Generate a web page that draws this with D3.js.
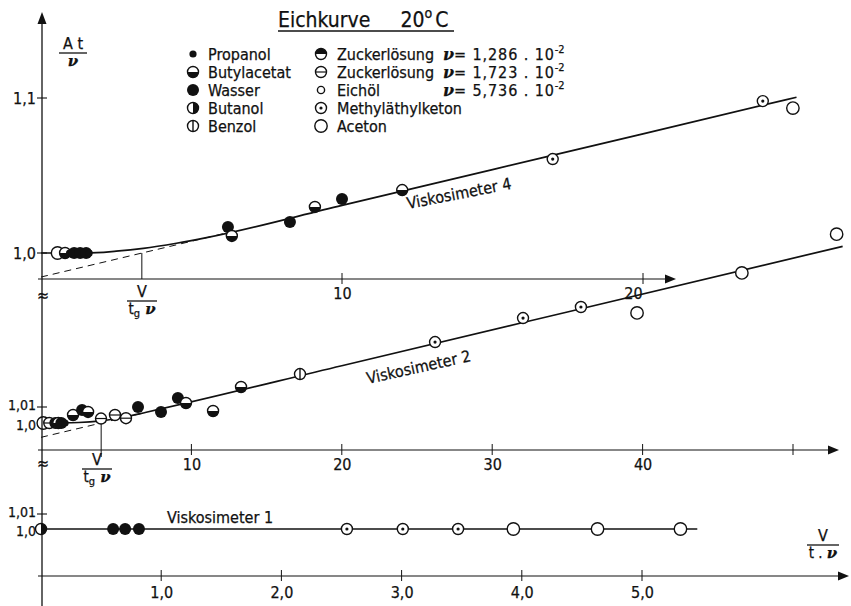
<!DOCTYPE html>
<html lang="de">
  <head>
    <meta charset="utf-8">
    <title>Eichkurve 20°C</title>
    <script src="https://cdn.jsdelivr.net/npm/d3@7"></script>
    <style>
      body { margin: 0; background: #fff; }
      text { font-family: "DejaVu Sans Condensed", "DejaVu Sans", sans-serif; fill: #111; stroke: #111; stroke-width: 0.25; }
    </style>
  </head>
  <body>
    <script>
      // Data: [x, A t / nu, substance]
      var v4Points = [
        [0.55, 1.0, "Aceton"], [0.8, 1.0, "Butylacetat"], [0.95, 1.0, "Propanol"],
        [1.1, 1.0, "Wasser"], [1.3, 1.0, "Wasser"], [1.5, 1.0, "Wasser"], [1.6, 1.0, "Propanol"],
        [6.21, 1.0168, "Wasser"], [6.34, 1.011, "Butylacetat"], [8.27, 1.020, "Wasser"],
        [9.1, 1.0297, "Butylacetat"], [10.0, 1.0348, "Wasser"], [12.0, 1.0406, "Butylacetat"],
        [17.0, 1.0606, "MEK"], [23.98, 1.098, "MEK"], [24.98, 1.0935, "Aceton"]
      ];
      var v4Curve = [[0, 1.0], [1.5, 1.0], [2.5, 1.0012], [3.4, 1.003], [4.5, 1.0063], [5.5, 1.0099],
                     [10, 1.0307], [15, 1.0538], [20, 1.0769], [25.1, 1.1005]];
      var v4Dash = [[0, 0.9845], [6.5, 1.0145]];
      var v4Mark = 3.35;

      var v2Points = [
        [0.15, 1.0, "Aceton"], [0.55, 1.0, "Zucker2"], [0.95, 1.0, "Wasser"], [1.15, 1.0, "Butylacetat"],
        [1.35, 1.0, "Wasser"], [1.6, 1.0, "Propanol"],
        [2.13, 1.005, "Butylacetat"], [2.73, 1.0081, "Wasser"], [3.13, 1.0069, "Butylacetat"],
        [3.99, 1.0028, "Zucker2"], [4.92, 1.005, "Zucker2"], [5.65, 1.003, "Zucker2"],
        [6.45, 1.010, "Wasser"], [7.98, 1.0069, "Wasser"], [9.1, 1.0156, "Wasser"],
        [9.64, 1.0125, "Butylacetat"], [11.44, 1.0075, "Butylacetat"], [13.3, 1.0225, "Butylacetat"],
        [17.22, 1.0306, "Benzol"], [26.2, 1.0506, "MEK"], [32.05, 1.0656, "MEK"], [35.9, 1.0725, "MEK"],
        [39.63, 1.0688, "Aceton"], [46.6, 1.0938, "Aceton"], [52.9, 1.118, "Aceton"]
      ];
      var v2Curve = [[0, 1.0], [2.5, 1.0003], [4, 1.0013], [5.5, 1.0036], [7, 1.0067],
                     [20, 1.0358], [35, 1.0694], [53.3, 1.1104]];
      var v2Dash = [[0, 0.99104], [7, 1.0067]];
      var v2Mark = 4.0;

      var v1Points = [
        [0, 1.0, "Butanol"], [0.6, 1.0, "Wasser"], [0.7, 1.0, "Wasser"], [0.815, 1.0, "Wasser"],
        [2.545, 1.0, "MEK"], [3.01, 1.0, "MEK"], [3.47, 1.0, "MEK"],
        [3.93, 1.0, "Aceton"], [4.63, 1.0, "Aceton"], [5.32, 1.0, "Aceton"]
      ];
      var v1Line = [[0, 1.0], [5.46, 1.0]];

      var legendCol1 = [["Propanol", "Propanol"], ["Butylacetat", "Butylacetat"], ["Wasser", "Wasser"],
                        ["Butanol", "Butanol"], ["Benzol", "Benzol"]];
      var legendCol2 = [["Zucker1", "Zuckerlösung"], ["Zucker2", "Zuckerlösung"], ["Eichoel", "Eichöl"],
                        ["MEK", "Methyläthylketon"], ["Aceton", "Aceton"]];
      var legendNu = ["1,286", "1,723", "5,736"];

      var de = d3.formatLocale({decimal: ",", thousands: ".", grouping: [3], currency: ["", "€"]});

      var svg = d3.select("body").append("svg")
                  .attr("width", 851)
                  .attr("height", 606);
      svg.append("rect").attr("width", 851).attr("height", 606).attr("fill", "#fff");

      var ink = "#111";
      var arc = d3.arc().innerRadius(0);

      // draws one plot symbol of the given substance
      var drawMarker = function(g, type, cx, cy){
        var m = g.append("g").attr("transform", "translate(" + cx + "," + cy + ")");
        var r = 5.5;
        if (type == "Propanol") {
          m.append("circle").attr("r", 3.6).attr("fill", ink);
          return;
        }
        if (type == "Wasser") {
          m.append("circle").attr("r", 6).attr("fill", ink);
          return;
        }
        if (type == "Eichoel") r = 3.6;
        if (type == "Aceton") r = 6.2;
        m.append("circle").attr("r", r).attr("fill", "#fff")
          .attr("stroke", ink).attr("stroke-width", 1.4);
        if (type == "Butylacetat")
          m.append("path").attr("d", arc.outerRadius(r)({startAngle: Math.PI/2, endAngle: 3*Math.PI/2})).attr("fill", ink);
        if (type == "Butanol")
          m.append("path").attr("d", arc.outerRadius(r)({startAngle: 0, endAngle: Math.PI})).attr("fill", ink);
        if (type == "Zucker1")
          m.append("path").attr("d", arc.outerRadius(r)({startAngle: -Math.PI/2, endAngle: Math.PI/2})).attr("fill", ink);
        if (type == "Benzol")
          m.append("line").attr("y1", -r).attr("y2", r).attr("stroke", ink).attr("stroke-width", 1.4);
        if (type == "Zucker2")
          m.append("line").attr("x1", -r).attr("x2", r).attr("stroke", ink).attr("stroke-width", 1.2);
        if (type == "MEK")
          m.append("circle").attr("r", 1.6).attr("fill", ink);
      };

      var arrowRight = function(x, y){
        svg.append("path").attr("d", "M" + (x - 11) + "," + (y - 4.5) + "L" + x + "," + y + "L" + (x - 11) + "," + (y + 4.5) + "Z")
          .attr("fill", ink);
      };

      // one panel per viscometer
      var panel = function(opt){
        var x = d3.scaleLinear().domain(opt.xDomain).range(opt.xRange);
        var y = d3.scaleLinear().domain(opt.yDomain).range(opt.yRange);
        var g = svg.append("g");

        // x axis line with arrow
        g.append("line").attr("x1", 38).attr("x2", opt.arrowX - 6)
          .attr("y1", opt.axisY).attr("y2", opt.axisY)
          .attr("stroke", ink).attr("stroke-width", 1.2);
        arrowRight(opt.arrowX, opt.axisY);

        // x ticks crossing the axis, labels from d3 axis
        g.selectAll(".xt").data(opt.xTicks).enter().append("line")
          .attr("x1", function(d){ return x(d); }).attr("x2", function(d){ return x(d); })
          .attr("y1", opt.axisY - 6).attr("y2", opt.axisY + 5)
          .attr("stroke", ink).attr("stroke-width", 1);
        var xa = g.append("g").attr("transform", "translate(0," + opt.axisY + ")")
          .call(d3.axisBottom(x).tickValues(opt.xLabels).tickSize(0).tickPadding(opt.xPad).tickFormat(opt.xFormat));
        xa.select(".domain").remove();
        xa.selectAll("text").attr("font-size", 16).attr("fill", ink)
          .attr("font-family", "DejaVu Sans Condensed, DejaVu Sans, sans-serif")
          .attr("dx", function(d){ return opt.labelShift && opt.labelShift[d] ? opt.labelShift[d] : 0; });

        // y ticks
        g.selectAll(".yt").data(opt.yTicks).enter().append("line")
          .attr("x1", 37).attr("x2", 47)
          .attr("y1", function(d){ return y(d); }).attr("y2", function(d){ return y(d); })
          .attr("stroke", ink).attr("stroke-width", 1.1);
        var ya = g.append("g").attr("transform", "translate(42,0)")
          .call(d3.axisLeft(y).tickValues(opt.yTicks).tickSize(0).tickPadding(6).tickFormat(opt.yFormat));
        ya.select(".domain").remove();
        ya.selectAll("text").attr("font-size", opt.ySize).attr("fill", ink)
          .attr("font-family", "DejaVu Sans Condensed, DejaVu Sans, sans-serif")
          .attr("dy", function(d, i){ return opt.yShift ? opt.yShift[i] : "0.32em"; });

        var line = d3.line().x(function(d){ return x(d[0]); }).y(function(d){ return y(d[1]); });
        if (opt.dash) {
          g.append("path").attr("d", line(opt.dash)).attr("fill", "none")
            .attr("stroke", ink).attr("stroke-width", 1).attr("stroke-dasharray", "7,5");
        }
        g.append("path").attr("d", line.curve(d3.curveMonotoneX)(opt.curve)).attr("fill", "none")
          .attr("stroke", ink).attr("stroke-width", 1.7);

        if (opt.mark != null) {
          g.append("line").attr("x1", x(opt.mark)).attr("x2", x(opt.mark))
            .attr("y1", y(1.0)).attr("y2", opt.axisY + opt.markDrop)
            .attr("stroke", ink).attr("stroke-width", 1);
        }

        opt.points.forEach(function(p){ drawMarker(g, p[2], x(p[0]), y(p[1])); });
        return {x: x, y: y};
      };

      var fmt1 = de.format(".1f");
      var yFmt = function(d){ return d == 1 ? "1,0" : de.format(".2~f")(d); };

      var p4 = panel({
        xDomain: [0, 20], xRange: [41, 643], yDomain: [1.0, 1.1], yRange: [253, 98],
        axisY: 279, arrowX: 676, xTicks: [10, 20], xLabels: [10, 20], xPad: 9,
        xFormat: d3.format("d"), labelShift: {20: -10},
        yTicks: [1.0, 1.1], yFormat: function(d){ return de.format(".1f")(d); }, ySize: 16,
        curve: v4Curve, dash: v4Dash, mark: v4Mark, markDrop: 0, points: v4Points
      });
      var p2 = panel({
        xDomain: [0, 50], xRange: [41, 793], yDomain: [1.0, 1.01], yRange: [423, 407],
        axisY: 450, arrowX: 839, xTicks: [10, 20, 30, 40, 50], xLabels: [10, 20, 30, 40], xPad: 9,
        xFormat: d3.format("d"),
        yTicks: [1.0, 1.01], yFormat: yFmt, ySize: 14, yShift: ["0.45em", "0.2em"],
        curve: v2Curve, dash: v2Dash, mark: v2Mark, markDrop: 7, points: v2Points
      });
      var p1 = panel({
        xDomain: [0, 5], xRange: [41, 642], yDomain: [1.0, 1.01], yRange: [529, 514],
        axisY: 576, arrowX: 849, xTicks: [1, 2, 3, 4, 5], xLabels: [1, 2, 3, 4, 5], xPad: 11,
        xFormat: fmt1,
        yTicks: [1.0, 1.01], yFormat: yFmt, ySize: 14, yShift: ["0.45em", "0.2em"],
        curve: v1Line, dash: null, mark: null, points: v1Points
      });

      // y axis with arrow
      svg.append("line").attr("x1", 42).attr("x2", 42).attr("y1", 20).attr("y2", 606)
        .attr("stroke", ink).attr("stroke-width", 1.3);
      svg.append("path").attr("d", "M37.5,24L42,12L46.5,24Z").attr("fill", ink);

      // axis break marks
      [296, 464].forEach(function(yy){
        svg.append("text").attr("x", 43).attr("y", yy + 5).attr("text-anchor", "middle")
          .attr("font-size", 16).text("≈");
      });

      // fraction labels
      var fraction = function(cx, yTop, top, bottom, halfW){
        svg.append("text").attr("x", cx).attr("y", yTop).attr("text-anchor", "middle")
          .attr("font-size", 16).text(top);
        svg.append("line").attr("x1", cx - halfW).attr("x2", cx + halfW)
          .attr("y1", yTop + 4).attr("y2", yTop + 4).attr("stroke", ink).attr("stroke-width", 1.3);
        var t = svg.append("text").attr("x", cx).attr("y", yTop + 17).attr("text-anchor", "middle")
          .attr("font-size", 15);
        bottom.forEach(function(b){
          var s = t.append("tspan").text(b[0]);
          if (b[1] == "sub") s.attr("font-size", 11).attr("dy", 3);
          if (b[1] == "nu") s.attr("font-family", "DejaVu Serif, serif").attr("font-style", "italic")
                              .attr("font-weight", "bold").attr("dy", b[2] || 0);
        });
      };
      fraction(73, 49, "A t", [["ν", "nu"]], 14);
      fraction(142, 297, "V", [["t"], ["g", "sub"], [" ν", "nu", -3]], 15);
      fraction(97, 465, "V", [["t"], ["g", "sub"], [" ν", "nu", -3]], 15);
      fraction(823, 541, "V", [["t . "], ["ν", "nu"]], 16);

      // curve labels
      svg.append("text").attr("transform", "translate(408,209) rotate(-11)")
        .attr("font-size", 16).text("Viskosimeter  4");
      svg.append("text").attr("transform", "translate(368,384) rotate(-12.5)")
        .attr("font-size", 16).text("Viskosimeter  2");
      svg.append("text").attr("x", 167).attr("y", 523)
        .attr("font-size", 16).text("Viskosimeter  1");

      // title
      var title = svg.append("text").attr("x", 278).attr("y", 27).attr("font-size", 21);
      title.append("tspan").text("Eichkurve");
      title.append("tspan").attr("dx", 30).text("20");
      title.append("tspan").attr("font-size", 14).attr("dy", -9).text("o");
      title.append("tspan").attr("dy", 9).attr("dx", 3).text("C");
      svg.append("line").attr("x1", 278).attr("x2", 454).attr("y1", 31).attr("y2", 31)
        .attr("stroke", ink).attr("stroke-width", 1.5);

      // legend
      var rowY = [54, 72, 90, 108, 126];
      legendCol1.forEach(function(d, i){
        drawMarker(svg, d[0], 193, rowY[i]);
        svg.append("text").attr("x", 208).attr("y", rowY[i] + 6).attr("font-size", 16).text(d[1]);
      });
      legendCol2.forEach(function(d, i){
        drawMarker(svg, d[0], 321, rowY[i]);
        svg.append("text").attr("x", 337).attr("y", rowY[i] + 6).attr("font-size", 16).text(d[1]);
      });
      legendNu.forEach(function(v, i){
        var t = svg.append("text").attr("x", 443).attr("y", rowY[i] + 6).attr("font-size", 16);
        t.append("tspan").attr("font-family", "DejaVu Serif, serif").attr("font-style", "italic")
          .attr("font-weight", "bold").text("ν");
        t.append("tspan").text("= " + v + "  .  10").attr("letter-spacing", 0.9);
        t.append("tspan").attr("font-size", 11).attr("dy", -7).text("-2");
      });
    </script>
  </body>
</html>
